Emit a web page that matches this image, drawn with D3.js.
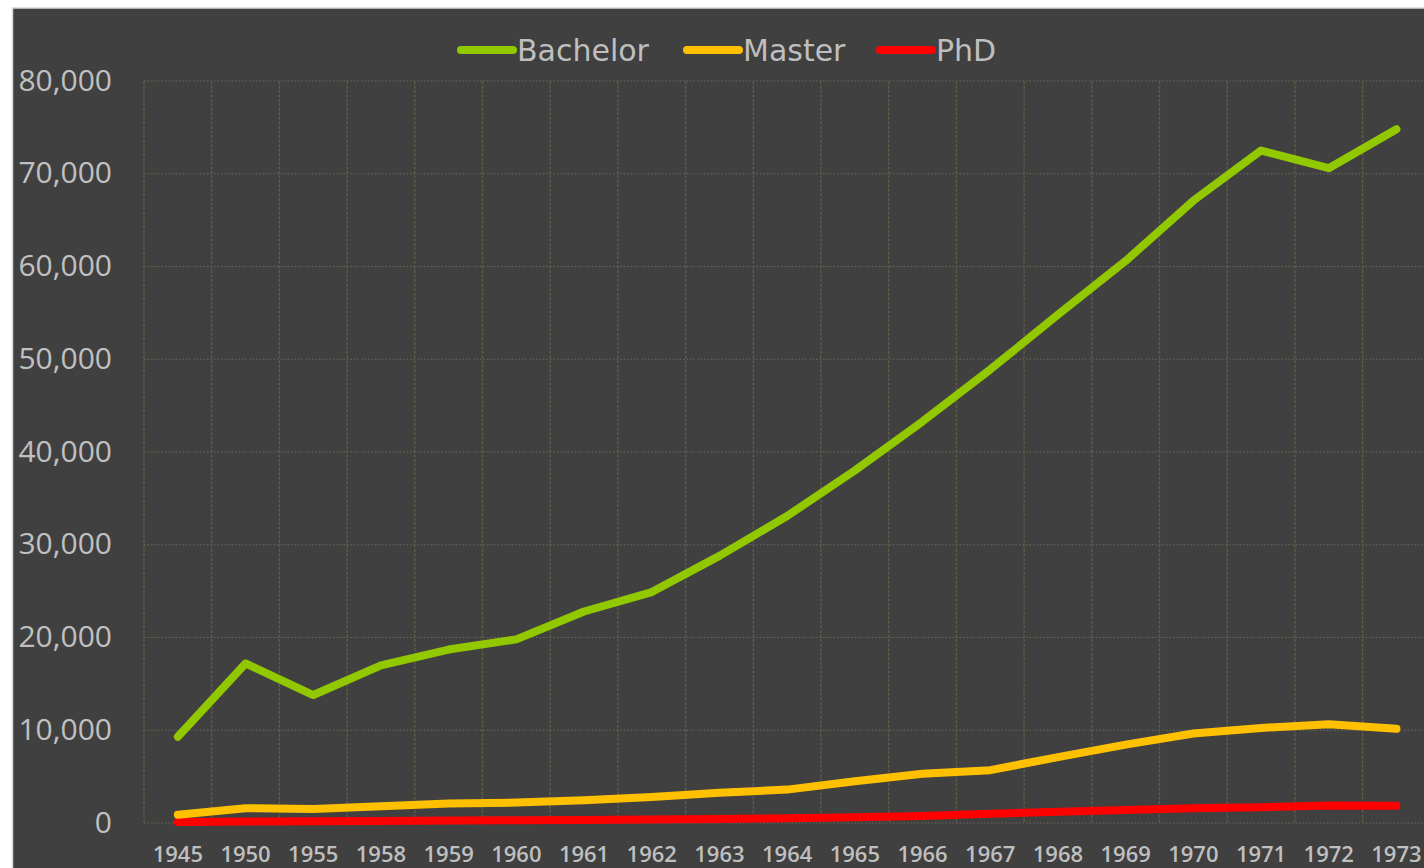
<!DOCTYPE html>
<html>
<head>
<meta charset="utf-8">
<script src="https://cdn.jsdelivr.net/npm/d3@7"></script>
<style>
  html, body { margin: 0; padding: 0; background: #ffffff; overflow: hidden; }
  svg { display: block; }
</style>
</head>
<body>
<svg id="chart" width="1424" height="868"></svg>
<script>
const years = ["1945","1950","1955","1958","1959","1960","1961","1962","1963","1964","1965","1966","1967","1968","1969","1970","1971","1972","1973"];
const bachelor = [9300, 17200, 13800, 17000, 18700, 19800, 22800, 24900, 28800, 33100, 38000, 43300, 48900, 54800, 60600, 67100, 72500, 70600, 74800];
const master   = [900, 1600, 1500, 1800, 2100, 2200, 2450, 2800, 3250, 3600, 4500, 5300, 5700, 7100, 8450, 9650, 10250, 10650, 10150];
const phd      = [100, 150, 180, 220, 260, 300, 330, 380, 440, 520, 620, 750, 1000, 1200, 1400, 1580, 1700, 1880, 1870];
const yTicks   = [0, 10000, 20000, 30000, 40000, 50000, 60000, 70000, 80000];
const seriesNames  = ["Bachelor", "Master", "PhD"];
const seriesColors = ["#92c800", "#ffc000", "#ff0000"];

(function () {
const svg = d3.select("#chart");

// panel
svg.append("rect").attr("x", 12.5).attr("y", 8).attr("width", 1420).attr("height", 870)
  .attr("fill", "#404040").attr("stroke", "#d9d9d9").attr("stroke-width", 1.5);

const pLeft = 144, pRight = 144 + 19 * 67.7, pTop = 81, pBottom = 823;
const x = d3.scaleBand().domain(years).range([pLeft, pRight]).padding(0);
const y = d3.scaleLinear().domain([0, 80000]).range([pBottom, pTop]);

// horizontal grid
svg.append("g").selectAll("line").data(yTicks).join("line")
  .attr("x1", pLeft).attr("x2", 1424)
  .attr("y1", d => y(d)).attr("y2", d => y(d))
  .attr("stroke", "#6a6a5c").attr("stroke-width", 1).attr("stroke-dasharray", "1.5,2");

// vertical grid at category boundaries
const bounds = years.map(d => x(d)).concat([pRight]);
svg.append("g").selectAll("line").data(bounds).join("line")
  .attr("x1", d => d).attr("x2", d => d)
  .attr("y1", pTop).attr("y2", pBottom)
  .attr("stroke", "#5f5f48").attr("stroke-width", 1.3).attr("stroke-dasharray", "3,1.5");

// y labels
svg.append("g").selectAll("text").data(yTicks).join("text")
  .attr("x", 112).attr("y", d => y(d) + 9.5)
  .attr("text-anchor", "end")
  .attr("font-family", "'Open Sans', sans-serif").attr("font-size", 30)
  .attr("fill", "#c0c0c0")
  .text(d => d3.format(",")(d));

// x labels
svg.append("g").selectAll("text").data(years).join("text")
  .attr("x", d => x(d) + x.bandwidth() / 2).attr("y", 862)
  .attr("text-anchor", "middle")
  .attr("font-family", "'Open Sans', sans-serif").attr("font-size", 22)
  .attr("font-weight", 600)
  .attr("fill", "#bfbfbf")
  .text(d => d);

// lines
const allSeries = [bachelor, master, phd];
const line = d3.line()
  .x((d, i) => x(years[i]) + x.bandwidth() / 2)
  .y(d => y(d));
[2, 1, 0].forEach(k => {
  svg.append("path").datum(allSeries[k])
    .attr("d", line)
    .attr("fill", "none")
    .attr("stroke", seriesColors[k])
    .attr("stroke-width", 8)
    .attr("stroke-linejoin", "round")
    .attr("stroke-linecap", "round");
});

// legend
const legendX = [461, 687, 880];
const legend = svg.append("g");
seriesNames.forEach((name, i) => {
  legend.append("line")
    .attr("x1", legendX[i]).attr("x2", legendX[i] + 52)
    .attr("y1", 50).attr("y2", 50)
    .attr("stroke", seriesColors[i]).attr("stroke-width", 8)
    .attr("stroke-linecap", "round");
  legend.append("text")
    .attr("x", legendX[i] + 56).attr("y", 61)
    .attr("font-family", "'DejaVu Sans', sans-serif").attr("font-size", 30)
    .attr("fill", "#bfbfbf")
    .text(name);
});
})();
</script>
</body>
</html>
